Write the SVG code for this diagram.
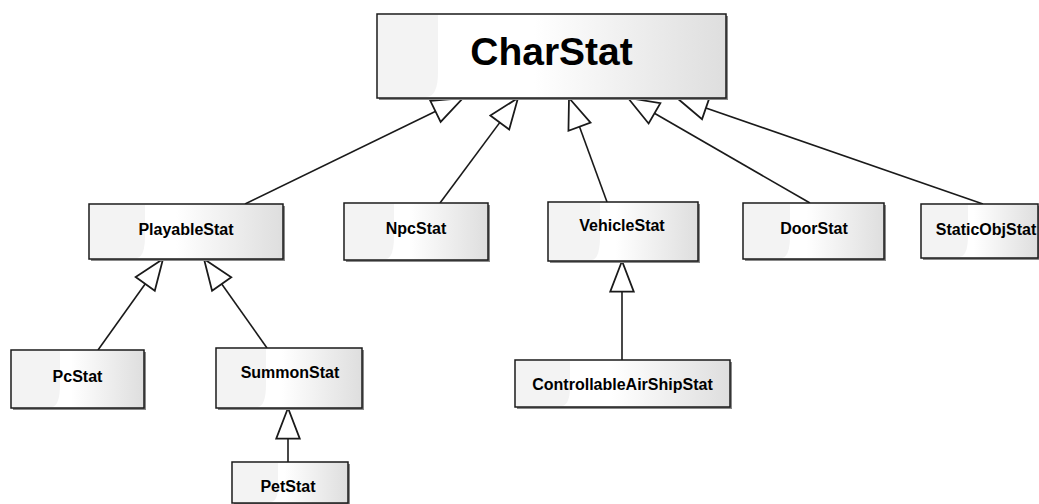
<svg xmlns="http://www.w3.org/2000/svg" width="1039" height="504" viewBox="0 0 1039 504">
<style>
.shadow{fill:#8a8a8a}
.box{fill:url(#boxfill);stroke:#1a1a1a;stroke-width:1.5}
.gloss{fill:#f3f3f3}
.lbl{font-family:"Liberation Sans",Arial,sans-serif;font-weight:bold;font-size:16px;fill:#000;text-anchor:middle}
.title{font-size:39px}
.conn{stroke:#1a1a1a;stroke-width:1.6;fill:none;marker-end:url(#tri)}
</style>
<defs>
<linearGradient id="boxfill" x1="0" y1="0" x2="1" y2="0">
<stop offset="0" stop-color="#ffffff"/>
<stop offset="0.45" stop-color="#ffffff"/>
<stop offset="1" stop-color="#dedede"/>
</linearGradient>
<marker id="tri" markerUnits="userSpaceOnUse" markerWidth="40" markerHeight="40" viewBox="-30 -14 34 28" refX="0" refY="0" orient="auto">
<path d="M0,0 L-26,-10 L-26,10 Z" fill="#fff" stroke="#1a1a1a" stroke-width="1.5" stroke-linejoin="miter"/>
</marker>
</defs>
<rect width="1039" height="504" fill="#fff"/>

<g id="connectors">
<line class="conn" x1="245" y1="204" x2="463" y2="98"/>
<line class="conn" x1="440" y1="203" x2="518" y2="98"/>
<line class="conn" x1="607" y1="202" x2="569" y2="98"/>
<line class="conn" x1="810" y1="203" x2="628" y2="98"/>
<line class="conn" x1="983" y1="204" x2="677" y2="98"/>
<line class="conn" x1="622" y1="360" x2="622" y2="261"/>
<line class="conn" x1="98" y1="350" x2="163" y2="259"/>
<line class="conn" x1="267" y1="348" x2="204" y2="259"/>
<line class="conn" x1="288" y1="462" x2="288" y2="408"/>
</g>

<g id="CharStat">
<rect class="shadow" x="379" y="16" width="349" height="84"/>
<rect class="box" x="377" y="14" width="349" height="84"/>
<path class="gloss" d="M378,15 H438 V72 Q438,97 426,97 H378 Z"/>
<text class="lbl title" x="551.5" y="65">CharStat</text>
</g>

<g id="PlayableStat">
<rect class="shadow" x="91" y="206" width="194" height="55"/>
<rect class="box" x="89" y="204" width="194" height="55"/>
<path class="gloss" d="M90,205 H145 V236 Q145,258 136,258 H90 Z"/>
<text class="lbl" x="186" y="235">PlayableStat</text>
</g>

<g id="NpcStat">
<rect class="shadow" x="346" y="205" width="144" height="57"/>
<rect class="box" x="344" y="203" width="144" height="57"/>
<path class="gloss" d="M345,204 H394 V236 Q394,259 385,259 H345 Z"/>
<text class="lbl" x="416" y="234">NpcStat</text>
</g>

<g id="VehicleStat">
<rect class="shadow" x="550" y="204" width="150" height="59"/>
<rect class="box" x="548" y="202" width="150" height="59"/>
<path class="gloss" d="M549,203 H600 V236 Q600,260 591,260 H549 Z"/>
<text class="lbl" x="622" y="231">VehicleStat</text>
</g>

<g id="DoorStat">
<rect class="shadow" x="745" y="205" width="141" height="56"/>
<rect class="box" x="743" y="203" width="141" height="56"/>
<path class="gloss" d="M744,204 H790 V236 Q790,258 781,258 H744 Z"/>
<text class="lbl" x="814" y="234">DoorStat</text>
</g>

<g id="StaticObjStat">
<rect class="shadow" x="923" y="206" width="117" height="54"/>
<rect class="box" x="921" y="204" width="117" height="54"/>
<path class="gloss" d="M922,205 H968 V236 Q968,257 959,257 H922 Z"/>
<text class="lbl" x="986" y="235">StaticObjStat</text>
</g>

<g id="PcStat">
<rect class="shadow" x="13" y="352" width="133" height="58"/>
<rect class="box" x="11" y="350" width="133" height="58"/>
<path class="gloss" d="M12,351 H60 V384 Q60,407 51,407 H12 Z"/>
<text class="lbl" x="77.5" y="382">PcStat</text>
</g>

<g id="SummonStat">
<rect class="shadow" x="218" y="350" width="146" height="60"/>
<rect class="box" x="216" y="348" width="146" height="60"/>
<path class="gloss" d="M217,349 H266 V384 Q266,407 257,407 H217 Z"/>
<text class="lbl" x="290" y="378">SummonStat</text>
</g>

<g id="ControllableAirShipStat">
<rect class="shadow" x="517" y="362" width="215" height="47"/>
<rect class="box" x="515" y="360" width="215" height="47"/>
<path class="gloss" d="M516,361 H570 V386 Q570,406 561,406 H516 Z"/>
<text class="lbl" x="622.5" y="390">ControllableAirShipStat</text>
</g>

<g id="PetStat">
<rect class="shadow" x="234" y="464" width="116" height="41"/>
<rect class="box" x="232" y="462" width="116" height="41"/>
<path class="gloss" d="M233,463 H278 V486 Q278,502 270,502 H233 Z"/>
<text class="lbl" x="288" y="492">PetStat</text>
</g>
</svg>
